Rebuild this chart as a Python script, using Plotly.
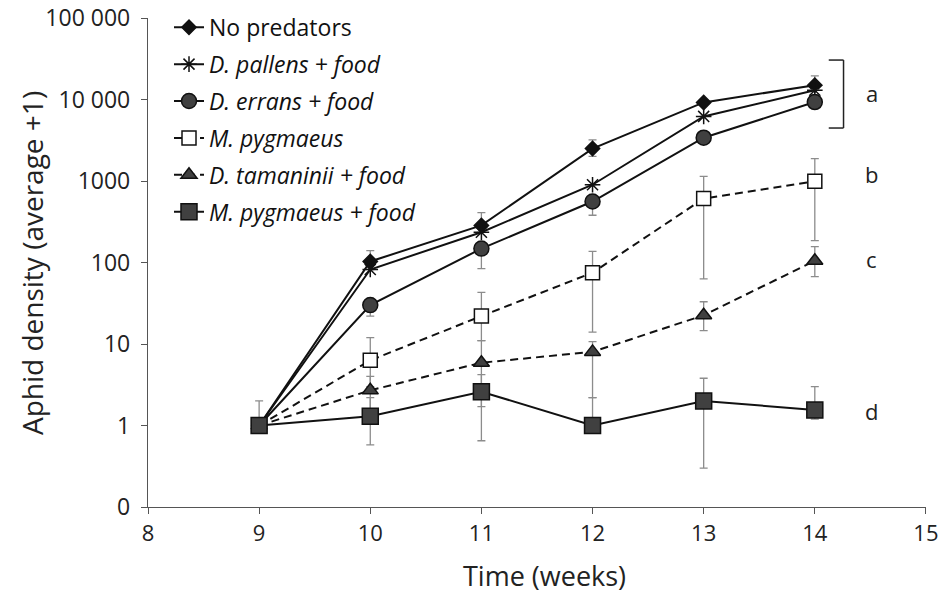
import plotly.graph_objects as go

# Aphid density (average + 1) per treatment, weeks 9-14
weeks = [9, 10, 11, 12, 13, 14]

no_pred = [1, 103, 285, 2500, 9200, 15000]
no_pred_hi = [1, 140, 410, 3200, 9200, 19500]
no_pred_lo = [1, 103, 285, 2000, 9200, 15000]

pallens = [1, 82, 235, 900, 6200, 13000]

errans = [1, 30, 148, 560, 3400, 9300]
errans_lo = [1, 22, 84, 380, 3400, 9300]

pyg = [1, 6.3, 22, 75, 610, 990]
pyg_hi = [1, 12, 43, 137, 1140, 1880]
pyg_lo = [1, 3.0, 11, 14, 63, 186]

tam = [1, 2.7, 5.9, 8.0, 22.5, 105]
tam_hi = [1, 4.0, 11, 10.7, 33, 157]
tam_lo = [1, 1.5, 1.7, 2.2, 14.6, 67]

pyg_food = [1, 1.3, 2.6, 1.0, 2.0, 1.55]
pyg_food_hi = [2.0, 2.2, 4.2, 2.2, 3.8, 3.0]
pyg_food_lo = [1, 0.58, 0.65, 1.0, 0.30, 1.2]

y_tickvals = [0.1, 1, 10, 100, 1000, 10000, 100000]
y_ticktext = ["0", "1", "10", "100", "1000", "10 000", "100 000"]
x_tickvals = [8, 9, 10, 11, 12, 13, 14, 15]

group_letters = ["a", "b", "c", "d"]

FONT = "Open Sans"
INK = "#111111"
FILL = "#404040"
ERR = "#8c8c8c"
TEXT = "#222222"


def err(vals, hi=None, lo=None):
    up = [h - v for h, v in zip(hi, vals)] if hi else [0] * len(vals)
    dn = [v - l for l, v in zip(lo, vals)] if lo else [0] * len(vals)
    return dict(type="data", symmetric=False, array=up, arrayminus=dn,
                color=ERR, thickness=1.3, width=4)


fig = go.Figure()

series = [
    dict(name="No predators", y=no_pred, hi=no_pred_hi, lo=no_pred_lo,
         symbol="diamond", size=11, color=INK, dash="solid"),
    dict(name="<i>D. pallens + food</i>", y=pallens, hi=None, lo=None,
         symbol="asterisk-open", size=13, color=INK, dash="solid"),
    dict(name="<i>D. errans + food</i>", y=errans, hi=None, lo=errans_lo,
         symbol="circle", size=15, color=FILL, dash="solid"),
    dict(name="<i>M. pygmaeus</i>", y=pyg, hi=pyg_hi, lo=pyg_lo,
         symbol="square", size=14, color="white", dash="8px,5px"),
    dict(name="<i>D. tamaninii + food</i>", y=tam, hi=tam_hi, lo=tam_lo,
         symbol="triangle-up", size=14, color=FILL, dash="8px,5px"),
    dict(name="<i>M. pygmaeus + food</i>", y=pyg_food, hi=pyg_food_hi, lo=pyg_food_lo,
         symbol="square", size=16, color=FILL, dash="solid"),
]

for i, s in enumerate(series):
    fig.add_trace(go.Scatter(
        x=weeks, y=s["y"], name=s["name"], mode="lines+markers",
        legendgroup=str(i),
        line=dict(color=INK, width=2, dash=s["dash"]),
        marker=dict(symbol=s["symbol"], size=s["size"], color=s["color"],
                    line=dict(color=INK, width=1.5)),
        error_y=err(s["y"], s["hi"], s["lo"]),
    ))

axis_common = dict(showline=True, linecolor="#555555", linewidth=1.3,
                   ticks="outside", tickcolor="#555555", ticklen=6,
                   showgrid=False, zeroline=False, mirror=False,
                   automargin=False, ticklabeloverflow="allow")

fig.update_xaxes(range=[8, 15.0005], tickvals=x_tickvals,
                 tickfont=dict(family=FONT, size=22, color=TEXT), **axis_common)
fig.update_yaxes(type="log", range=[-1, 5], tickvals=y_tickvals,
                 ticktext=y_ticktext, ticklabelstandoff=6,
                 tickfont=dict(family=FONT, size=23, color=TEXT), **axis_common)

# significance group letters and the bracket joining the top three curves
letter_y = [0.846, 0.68, 0.508, 0.197]
for letter, ly in zip(group_letters, letter_y):
    fig.add_annotation(text=letter, xref="paper", yref="paper", x=0.93, y=ly,
                       xanchor="center", yanchor="middle", showarrow=False,
                       font=dict(family=FONT, size=22, color=TEXT))

bx, bl, btop, bbot = 0.894, 0.875, 0.914, 0.775
for x0, y0, x1, y1 in [(bx, btop, bx, bbot), (bl, btop, bx, btop), (bl, bbot, bx, bbot)]:
    fig.add_shape(type="line", xref="paper", yref="paper", x0=x0, y0=y0, x1=x1, y1=y1,
                  line=dict(color=TEXT, width=1.5))

fig.add_annotation(text="Aphid density (average +1)", xref="paper", yref="paper",
                   x=-0.149, y=0.499, xanchor="center", yanchor="middle",
                   textangle=-90, showarrow=False,
                   font=dict(family=FONT, size=28, color=TEXT))
fig.add_annotation(text="Time (weeks)", xref="paper", yref="paper",
                   x=0.51, y=-0.14, xanchor="center", yanchor="middle",
                   showarrow=False,
                   font=dict(family=FONT, size=27, color=TEXT))

fig.update_layout(
    width=938, height=594,
    margin=dict(l=148, r=12, t=18, b=87, autoexpand=False),
    paper_bgcolor="white", plot_bgcolor="white",
    showlegend=True,
    legend=dict(x=0.027, y=1.025, xanchor="left", yanchor="top",
                font=dict(family=FONT, size=23, color="#111111"),
                tracegroupgap=4, itemwidth=30, bgcolor="rgba(0,0,0,0)"),
)

fig.write_html("out.html")
